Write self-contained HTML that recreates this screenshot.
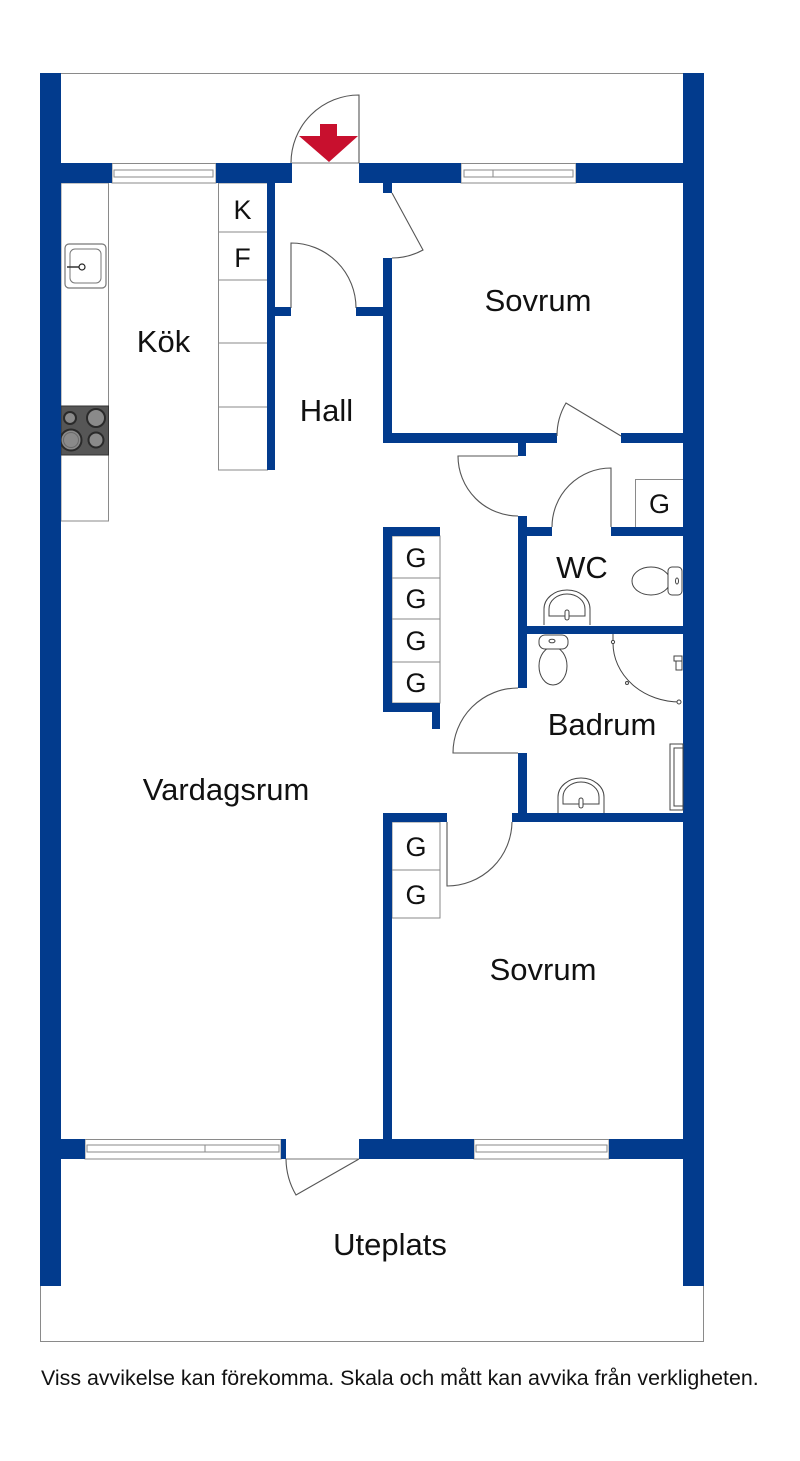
<!DOCTYPE html>
<html>
<head>
<meta charset="utf-8">
<style>
html,body{margin:0;padding:0;background:#fff;}
svg{display:block;}
text{font-family:"Liberation Sans",Arial,sans-serif;fill:#111;}
</style>
</head>
<body>
<svg width="800" height="1461" viewBox="0 0 800 1461" xmlns="http://www.w3.org/2000/svg">
<rect x="0" y="0" width="800" height="1461" fill="#fff"/>

<!-- outer frame -->
<rect x="40.5" y="73.5" width="663" height="1268" fill="none" stroke="#8a8a8a" stroke-width="1"/>

<!-- kitchen counter -->
<rect x="61" y="183" width="47.5" height="338" fill="#fff" stroke="#8a8a8a" stroke-width="1"/>
<!-- sink -->
<rect x="65" y="244" width="41" height="44" rx="4" fill="#fff" stroke="#777" stroke-width="1.2"/>
<rect x="70" y="249" width="31" height="34" rx="5" fill="#fff" stroke="#777" stroke-width="1"/>
<line x1="67" y1="267" x2="80" y2="267" stroke="#333" stroke-width="1.5"/>
<circle cx="82" cy="267" r="3" fill="#fff" stroke="#222" stroke-width="1.2"/>
<!-- stove -->
<rect x="61" y="406" width="47.5" height="49" fill="#565656" stroke="#333" stroke-width="1"/>
<circle cx="70" cy="418" r="6" fill="#8a8a8a" stroke="#2a2a2a" stroke-width="2"/>
<circle cx="96" cy="418" r="9" fill="#8a8a8a" stroke="#2a2a2a" stroke-width="2"/>
<circle cx="71" cy="440" r="10.5" fill="#8a8a8a" stroke="#2a2a2a" stroke-width="2"/>
<circle cx="71" cy="440" r="7.5" fill="none" stroke="#6a6a6a" stroke-width="1"/>
<circle cx="96" cy="440" r="7.5" fill="#8a8a8a" stroke="#2a2a2a" stroke-width="2"/>

<!-- K/F cabinet column -->
<rect x="218.5" y="183" width="49" height="287" fill="#fff" stroke="#8a8a8a" stroke-width="1"/>
<line x1="218.5" y1="232" x2="267" y2="232" stroke="#8a8a8a"/>
<line x1="218.5" y1="280" x2="267" y2="280" stroke="#8a8a8a"/>
<line x1="218.5" y1="343" x2="267" y2="343" stroke="#8a8a8a"/>
<line x1="218.5" y1="407" x2="267" y2="407" stroke="#8a8a8a"/>

<!-- G closets -->
<g fill="#fff" stroke="#8a8a8a" stroke-width="1">
<rect x="392" y="536" width="48" height="42"/>
<rect x="392" y="578" width="48" height="41"/>
<rect x="392" y="619" width="48" height="43"/>
<rect x="392" y="662" width="48" height="41"/>
<rect x="392" y="822" width="48" height="48"/>
<rect x="392" y="870" width="48" height="48"/>
<rect x="635.5" y="479.5" width="48" height="48"/>
</g>

<!-- windows -->
<g fill="#fff" stroke="#8a8a8a" stroke-width="1">
<rect x="112" y="163.5" width="104" height="19.5"/>
<rect x="114" y="170" width="99" height="7" fill="none"/>
<rect x="461" y="163.5" width="115" height="19.5"/>
<rect x="464" y="170" width="109" height="7" fill="none"/>
<line x1="493" y1="170" x2="493" y2="177"/>
<rect x="85" y="1139.5" width="196" height="19.5"/>
<rect x="87" y="1145" width="192" height="7" fill="none"/>
<line x1="205" y1="1145" x2="205" y2="1152"/>
<rect x="474" y="1139.5" width="135" height="19.5"/>
<rect x="476" y="1145" width="131" height="7" fill="none"/>
</g>

<!-- walls -->
<g fill="#023b8d">
<rect x="40" y="73" width="21" height="1213"/>
<rect x="683" y="73" width="21" height="1213"/>
<rect x="61" y="163" width="51" height="20"/>
<rect x="216" y="163" width="76" height="20"/>
<rect x="359" y="163" width="102" height="20"/>
<rect x="576" y="163" width="107" height="20"/>
<rect x="61" y="1139" width="24" height="20"/>
<rect x="281" y="1139" width="5" height="20"/>
<rect x="359" y="1139" width="115" height="20"/>
<rect x="609" y="1139" width="74" height="20"/>

<rect x="267" y="183" width="8" height="287"/>
<rect x="275" y="307" width="16" height="9"/>
<rect x="356" y="307" width="27" height="9"/>
<rect x="383" y="183" width="9" height="10"/>
<rect x="383" y="258" width="9" height="185"/>
<rect x="383" y="433" width="174" height="10"/>
<rect x="621" y="433" width="62" height="10"/>
<rect x="518" y="443" width="8" height="13"/>
<rect x="518" y="516" width="9" height="172"/>
<rect x="518" y="527" width="34" height="9"/>
<rect x="611" y="527" width="72" height="9"/>
<rect x="518" y="626" width="165" height="8"/>
<rect x="518" y="753" width="9" height="62"/>
<rect x="512" y="813" width="171" height="9"/>

<rect x="383" y="527" width="57" height="9"/>
<rect x="383" y="527" width="9" height="185"/>
<rect x="383" y="703" width="57" height="9"/>
<rect x="432" y="703" width="8" height="26"/>

<rect x="383" y="813" width="64" height="9"/>
<rect x="383" y="813" width="9" height="326"/>
</g>

<!-- doors -->
<g fill="none" stroke="#555" stroke-width="1.1">
<line x1="292" y1="163" x2="359" y2="163" stroke="#777"/>
<path d="M359,163 L359,95 A68,68 0 0 0 291,163"/>
<path d="M392,193 L423,250 A65,65 0 0 1 392,258"/>
<path d="M291,308 L291,243 A65,65 0 0 1 356,308"/>
<path d="M621,436 L566,403 A64,64 0 0 0 557,436"/>
<path d="M518,456 L458,456 A60,60 0 0 0 518,516"/>
<path d="M611,527 L611,468 A59,59 0 0 0 552,527"/>
<path d="M518,753 L453,753 A65,65 0 0 1 518,688"/>
<path d="M447,822 L447,886 A65,65 0 0 0 512,822"/>
<line x1="286" y1="1159" x2="359" y2="1159" stroke="#777"/>
<path d="M359,1159 L296,1195 A73,73 0 0 1 286,1159"/>
</g>

<!-- entrance arrow -->
<polygon points="320,124 337,124 337,136 358,136 329,162 299,136 320,136" fill="#c8102e"/>

<!-- WC fixtures -->
<g fill="#fff" stroke="#444" stroke-width="1">
<ellipse cx="651" cy="581" rx="19" ry="14"/>
<rect x="668" y="567" width="14" height="28" rx="4"/>
<ellipse cx="677" cy="581" rx="1.5" ry="3"/>
<path d="M544,625 L544,609 A23,19 0 0 1 590,609 L590,625"/>
<path d="M549,616 L549,609 A18,15 0 0 1 585,609 L585,616 Z"/>
<rect x="565" y="610" width="4" height="10" rx="2"/>
</g>

<!-- Badrum fixtures -->
<g fill="#fff" stroke="#444" stroke-width="1">
<ellipse cx="553" cy="666" rx="14" ry="19"/>
<rect x="539" y="635" width="29" height="14" rx="6"/>
<ellipse cx="552" cy="641" rx="3" ry="1.8"/>
<path d="M558,813 L558,797 A23,19 0 0 1 604,797 L604,813"/>
<path d="M563,804 L563,797 A18,15 0 0 1 599,797 L599,804 Z"/>
<rect x="579" y="798" width="4" height="10" rx="2"/>
<rect x="670" y="744" width="13" height="66"/>
<rect x="674" y="748" width="9" height="58"/>
<line x1="613" y1="634" x2="613" y2="642"/>
<circle cx="613" cy="642" r="1.6"/>
<path d="M613,643 A67,59 0 0 0 680,702" fill="none"/>
<circle cx="627" cy="683" r="1.5"/>
<circle cx="679" cy="702" r="2"/>
<rect x="674" y="656" width="8" height="5"/>
<rect x="676" y="661" width="6" height="9"/>
</g>

<!-- labels -->
<g font-size="31" text-anchor="middle">
<text x="163.5" y="352">Kök</text>
<text x="326.5" y="421">Hall</text>
<text x="538" y="311">Sovrum</text>
<text x="226" y="800">Vardagsrum</text>
<text x="582" y="578">WC</text>
<text x="602" y="735">Badrum</text>
<text x="543" y="980">Sovrum</text>
<text x="390" y="1255">Uteplats</text>
</g>
<g font-size="27" text-anchor="middle">
<text x="242.5" y="219">K</text>
<text x="242.5" y="267">F</text>
<text x="416" y="567">G</text>
<text x="416" y="608">G</text>
<text x="416" y="650">G</text>
<text x="416" y="692">G</text>
<text x="416" y="856">G</text>
<text x="416" y="904">G</text>
<text x="659.5" y="513">G</text>
</g>

<text x="41" y="1385" font-size="21.4">Viss avvikelse kan förekomma. Skala och mått kan avvika från verkligheten.</text>
</svg>
</body>
</html>
